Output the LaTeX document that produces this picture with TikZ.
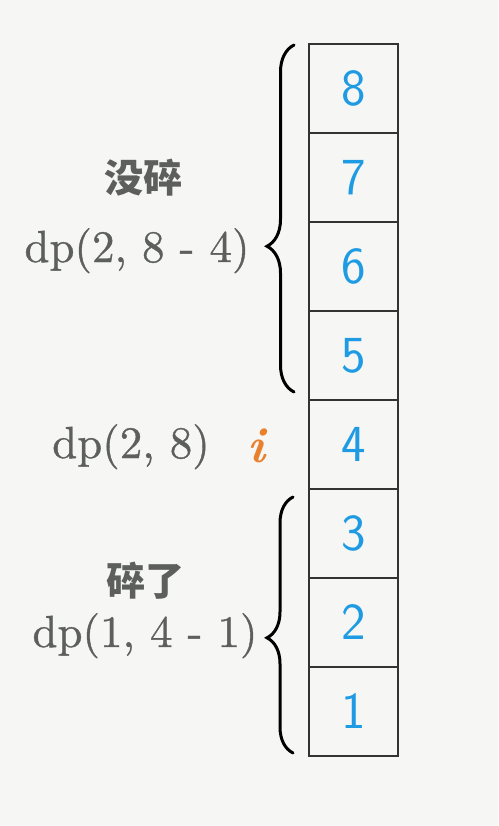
\documentclass[tikz,border=0pt]{standalone}
\usepackage{fontspec}
\newfontfamily\cjk{Noto Sans CJK SC}
\newfontfamily\dpfont{lmroman10-regular}[Extension=.otf, FakeBold=0.8]
\usetikzlibrary{decorations.pathreplacing}

\definecolor{paper}{HTML}{F6F6F4}
\definecolor{ink}{HTML}{5C5F5B}
\definecolor{digitblue}{HTML}{1E9BE3}
\definecolor{iorange}{HTML}{E8802E}

\tikzset{
  cell/.style={draw=black!80, line width=2.5pt, minimum width=89pt, minimum height=89pt,
    inner sep=0pt, text=digitblue, font=\sffamily\fontsize{52}{52}\selectfont},
  dplabel/.style={text=ink, anchor=base, font=\dpfont\fontsize{45}{45}\selectfont},
  cnlabel/.style={text=ink, font=\cjk\bfseries\fontsize{39}{39}\selectfont},
  bracket/.style={decorate, line width=3pt, line cap=round}
}

\begin{document}
\begin{tikzpicture}[x=1pt,y=-1pt]
\fill[paper] (0,0) rectangle (498,826);
\useasboundingbox (0,0) rectangle (498,826);

%---------------------------------------------------
%column of floors
\foreach \k in {1,...,8}
  \node[cell] (b\k) at (353.5,{44+89*(8-\k)+44.5}) {\k};

%---------------------------------------------------
%braces
\draw[bracket,decoration={brace,amplitude=27pt,aspect=0.42}] (294,392) -- (294,45);
\draw[bracket,decoration={brace,amplitude=26pt,aspect=0.45}] (293,753) -- (293,497);

%---------------------------------------------------
\node[cnlabel] (upcn) at (143,178) {没碎};
\node[dplabel] (updp) at (137,262) {dp(2, 8 - 4)};
\node[dplabel] (middp) at (131,458) {dp(2, 8)};
\node[text=iorange, anchor=base, font=\bfseries\itshape\fontsize{50}{50}\selectfont] (ilabel) at (256,462) {i};
\node[cnlabel] (downcn) at (145,581) {碎了};
\node[dplabel] (downdp) at (145,647) {dp(1, 4 - 1)};

\end{tikzpicture}
\end{document}
